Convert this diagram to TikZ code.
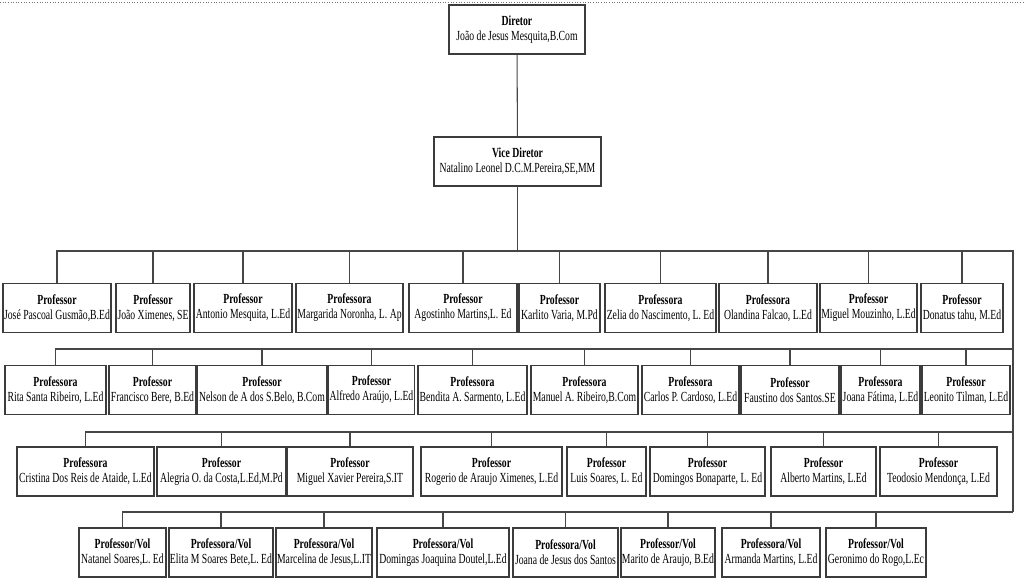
\documentclass[tikz,border=0pt]{standalone}
\usepackage{fontspec}
\usepackage{xcolor}
\usepackage{tikz}
\usetikzlibrary{positioning, calc}
\newfontfamily\orgfont[FakeStretch=0.70]{Liberation Serif}
\definecolor{boxline}{RGB}{60, 60, 60}
\definecolor{linkcolor}{RGB}{70, 70, 70}
\definecolor{rulecolor}{RGB}{120, 120, 120}

\tikzset{
    staffbox/.style={draw=boxline, line width=0.8pt, fill=white, minimum height=0.98cm, inner xsep=0.5pt, inner ysep=1pt, align=center, font=\orgfont\fontsize{7.9}{8.6}\selectfont},
    orgline/.style={draw=linkcolor, line width=0.6pt}
}

\begin{document}
\begin{tikzpicture}
        \useasboundingbox (0, 0) rectangle (20.48, -11.70);
        \draw[rulecolor, densely dotted, line width=0.5pt] (0, -0.04) -- (20.48, -0.04);

        % Direction
        \node[staffbox, minimum width=2.72cm] (dir) at (10.34, -0.59) {\textbf{Diretor}\\João de Jesus Mesquita,B.Com};
        \node[staffbox, minimum width=3.34cm] (vice) at (10.35, -3.23) {\textbf{Vice Diretor}\\Natalino Leonel D.C.M.Pereira,SE,MM};

        % Bus corners on the right
        \coordinate (bus1) at (20.26, -5.02);
        \coordinate (bus2) at (20.26, -6.98);
        \coordinate (bus3) at (20.26, -8.64);
        \coordinate (bus4) at (20.26, -10.24);

        % Row 1
        \node[staffbox, minimum width=2.16cm] (p1) at (1.14, -6.16) {\textbf{Professor}\\José Pascoal Gusmão,B.Ed};
        \node[staffbox, minimum width=1.48cm] (p2) at (3.06, -6.16) {\textbf{Professor}\\João Ximenes, SE};
        \node[staffbox, minimum width=1.96cm] (p3) at (4.86, -6.16) {\textbf{Professor}\\Antonio Mesquita, L.Ed};
        \node[staffbox, minimum width=2.14cm] (p4) at (6.99, -6.16) {\textbf{Professora}\\Margarida Noronha, L. Ap};
        \node[staffbox, minimum width=2.16cm] (p5) at (9.26, -6.16) {\textbf{Professor}\\Agostinho Martins,L. Ed};
        \node[staffbox, minimum width=1.62cm] (p6) at (11.19, -6.16) {\textbf{Professor}\\Karlito Varia, M.Pd};
        \node[staffbox, minimum width=2.22cm] (p7) at (13.21, -6.16) {\textbf{Professora}\\Zelia do Nascimento, L. Ed};
        \node[staffbox, minimum width=1.96cm] (p8) at (15.36, -6.16) {\textbf{Professora}\\Olandina Falcao, L.Ed};
        \node[staffbox, minimum width=1.94cm] (p9) at (17.37, -6.16) {\textbf{Professor}\\Miguel Mouzinho, L.Ed};
        \node[staffbox, minimum width=1.64cm] (p10) at (19.24, -6.16) {\textbf{Professor}\\Donatus tahu, M.Ed};

        % Row 2
        \node[staffbox, minimum width=2.02cm] (r1) at (1.11, -7.80) {\textbf{Professora}\\Rita Santa Ribeiro, L.Ed};
        \node[staffbox, minimum width=1.74cm] (r2) at (3.05, -7.80) {\textbf{Professor}\\Francisco Bere, B.Ed};
        \node[staffbox, minimum width=2.60cm] (r3) at (5.24, -7.80) {\textbf{Professor}\\Nelson de A dos S.Belo, B.Com};
        \node[staffbox, minimum width=1.70cm] (r4) at (7.43, -7.80) {\textbf{Professor}\\Alfredo Araújo, L.Ed};
        \node[staffbox, minimum width=2.18cm] (r5) at (9.45, -7.80) {\textbf{Professora}\\Bendita A. Sarmento, L.Ed};
        \node[staffbox, minimum width=2.14cm] (r6) at (11.69, -7.80) {\textbf{Professora}\\Manuel A. Ribeiro,B.Com};
        \node[staffbox, minimum width=1.94cm] (r7) at (13.81, -7.80) {\textbf{Professora}\\Carlos P. Cardoso, L.Ed};
        \node[staffbox, minimum width=1.96cm] (r8) at (15.80, -7.80) {\textbf{Professor}\\Faustino dos Santos.SE};
        \node[staffbox, minimum width=1.58cm] (r9) at (17.61, -7.80) {\textbf{Professora}\\Joana Fátima, L.Ed};
        \node[staffbox, minimum width=1.76cm] (r10) at (19.32, -7.80) {\textbf{Professor}\\Leonito Tilman, L.Ed};

        % Row 3
        \node[staffbox, minimum width=2.74cm] (s1) at (1.71, -9.43) {\textbf{Professora}\\Cristina Dos Reis de Ataide, L.Ed};
        \node[staffbox, minimum width=2.58cm] (s2) at (4.43, -9.43) {\textbf{Professor}\\Alegria O. da Costa,L.Ed,M.Pd};
        \node[staffbox, minimum width=2.52cm] (s3) at (7.00, -9.43) {\textbf{Professor}\\Miguel Xavier Pereira,S.IT};
        \node[staffbox, minimum width=2.82cm] (s4) at (9.83, -9.43) {\textbf{Professor}\\Rogerio de Araujo Ximenes, L.Ed};
        \node[staffbox, minimum width=1.58cm] (s5) at (12.13, -9.43) {\textbf{Professor}\\Luis Soares, L. Ed};
        \node[staffbox, minimum width=2.30cm] (s6) at (14.15, -9.43) {\textbf{Professor}\\Domingos Bonaparte, L. Ed};
        \node[staffbox, minimum width=2.10cm] (s7) at (16.47, -9.43) {\textbf{Professor}\\Alberto Martins, L.Ed};
        \node[staffbox, minimum width=2.34cm] (s8) at (18.77, -9.43) {\textbf{Professor}\\Teodosio Mendonça, L.Ed};

        % Row 4 (volunteers)
        \node[staffbox, minimum width=1.74cm] (v1) at (2.45, -11.05) {\textbf{Professor/Vol}\\Natanel Soares,L. Ed};
        \node[staffbox, minimum width=2.08cm] (v2) at (4.42, -11.05) {\textbf{Professora/Vol}\\Elita M Soares Bete,L. Ed};
        \node[staffbox, minimum width=1.92cm] (v3) at (6.48, -11.05) {\textbf{Professora/Vol}\\Marcelina de Jesus,L.IT};
        \node[staffbox, minimum width=2.64cm] (v4) at (8.86, -11.05) {\textbf{Professora/Vol}\\Domingas Joaquina Doutel,L.Ed};
        \node[staffbox, minimum width=2.10cm] (v5) at (11.31, -11.05) {\textbf{Professora/Vol}\\Joana de Jesus dos Santos};
        \node[staffbox, minimum width=1.88cm] (v6) at (13.36, -11.05) {\textbf{Professor/Vol}\\Marito de Araujo, B.Ed};
        \node[staffbox, minimum width=1.96cm] (v7) at (15.42, -11.05) {\textbf{Professora/Vol}\\Armanda Martins, L.Ed};
        \node[staffbox, minimum width=2.00cm] (v8) at (17.52, -11.05) {\textbf{Professor/Vol}\\Geronimo do Rogo,L.Ec};

        % Hierarchy lines
        \draw[orgline] (dir) -- (vice);
        \draw[orgline] (vice.south) -- (vice.south |- bus1);
        \draw[orgline] (p1.north) |- (bus1) -- (bus4);
        \draw[orgline] (r1.north) |- (bus2);
        \draw[orgline] (s1.north) |- (bus3);
        \draw[orgline] (v1.north) |- (bus4);

        % Row 1 drops
        \draw[orgline] (p2.north) -- (p2.north |- bus1);
        \draw[orgline] (p3.north) -- (p3.north |- bus1);
        \draw[orgline] (p4.north) -- (p4.north |- bus1);
        \draw[orgline] (p5.north) -- (p5.north |- bus1);
        \draw[orgline] (p6.north) -- (p6.north |- bus1);
        \draw[orgline] (p7.north) -- (p7.north |- bus1);
        \draw[orgline] (p8.north) -- (p8.north |- bus1);
        \draw[orgline] (p9.north) -- (p9.north |- bus1);
        \draw[orgline] (p10.north) -- (p10.north |- bus1);

        % Row 2 drops
        \draw[orgline] (r2.north) -- (r2.north |- bus2);
        \draw[orgline] (r3.north) -- (r3.north |- bus2);
        \draw[orgline] (r4.north) -- (r4.north |- bus2);
        \draw[orgline] (r5.north) -- (r5.north |- bus2);
        \draw[orgline] (r6.north) -- (r6.north |- bus2);
        \draw[orgline] (r7.north) -- (r7.north |- bus2);
        \draw[orgline] (r8.north) -- (r8.north |- bus2);
        \draw[orgline] (r9.north) -- (r9.north |- bus2);
        \draw[orgline] (r10.north) -- (r10.north |- bus2);

        % Row 3 drops
        \draw[orgline] (s2.north) -- (s2.north |- bus3);
        \draw[orgline] (s3.north) -- (s3.north |- bus3);
        \draw[orgline] (s4.north) -- (s4.north |- bus3);
        \draw[orgline] (s5.north) -- (s5.north |- bus3);
        \draw[orgline] (s6.north) -- (s6.north |- bus3);
        \draw[orgline] (s7.north) -- (s7.north |- bus3);
        \draw[orgline] (s8.north) -- (s8.north |- bus3);

        % Row 4 drops
        \draw[orgline] (v2.north) -- (v2.north |- bus4);
        \draw[orgline] (v3.north) -- (v3.north |- bus4);
        \draw[orgline] (v4.north) -- (v4.north |- bus4);
        \draw[orgline] (v5.north) -- (v5.north |- bus4);
        \draw[orgline] (v6.north) -- (v6.north |- bus4);
        \draw[orgline] (v7.north) -- (v7.north |- bus4);
        \draw[orgline] (v8.north) -- (v8.north |- bus4);

\end{tikzpicture}
\end{document}
